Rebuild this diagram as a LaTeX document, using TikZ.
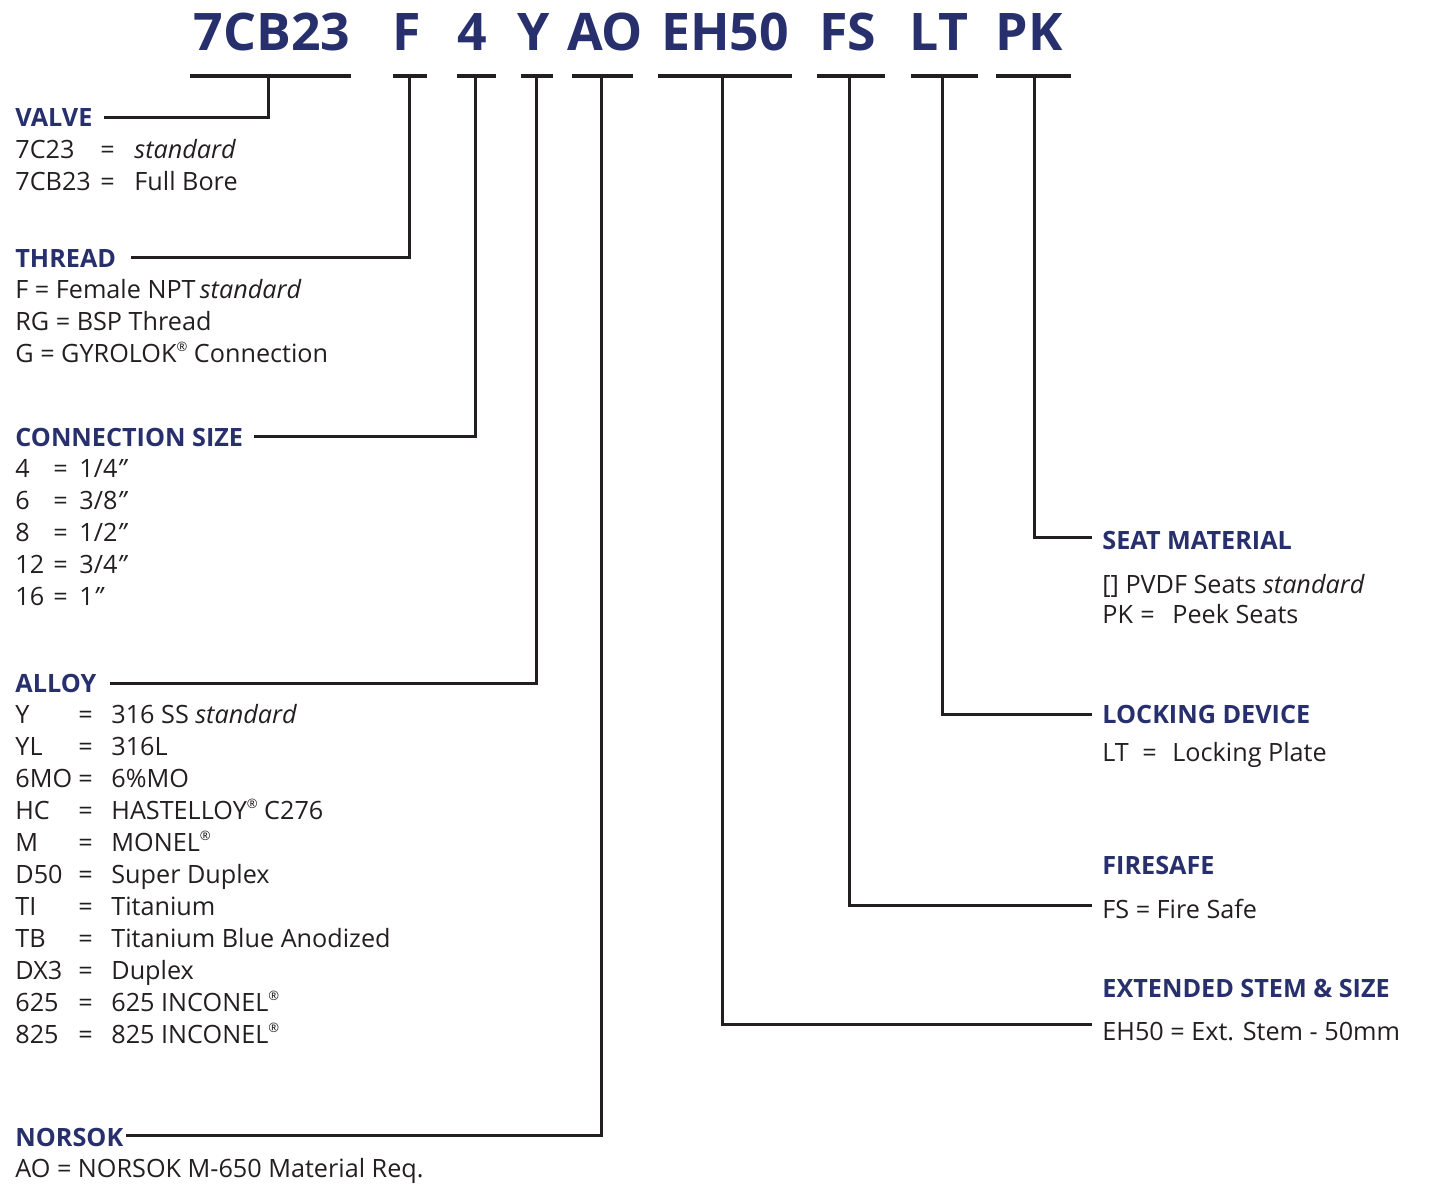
\documentclass[tikz,border=0pt]{standalone}
\usepackage{fontspec}
\setmainfont{Open Sans}
\usetikzlibrary{positioning}
\definecolor{codeblue}{HTML}{27306C}
\definecolor{leadgray}{HTML}{231F20}
\definecolor{textgray}{HTML}{231F20}
% key, = and value at fixed offsets
\newcommand{\kv}[4]{\makebox[#1][l]{#2}\makebox[#3][l]{=}#4}
\newcommand{\reg}{\raisebox{0.75ex}{\fontsize{6.5}{7}\selectfont ®}}

\begin{document}
\begin{tikzpicture}[x=0.5pt, y=-0.5pt, every node/.style={inner sep=0pt},
  code/.style={anchor=base, text=codeblue, font=\fontsize{25.9}{30}\selectfont\bfseries},
  head/.style={anchor=base west, text=codeblue, font=\fontsize{12.6}{16}\selectfont\bfseries},
  body/.style={anchor=base west, text=textgray, font=\fontsize{12.6}{16}\selectfont},
  uline/.style={draw=leadgray, line width=1.6pt},
  lead/.style={draw=leadgray, line width=1.5pt}]
  \useasboundingbox (0,0) rectangle (1436,1184);

  % ordering code
  \node[code] (cValve) at (272,50) {7CB23};
  \node[code] (cThread) at (407,50) {F};
  \node[code] (cSize) at (472,50) {4};
  \node[code] (cAlloy) at (534,50) {Y};
  \node[code] (cNorsok) at (605,50) {AO};
  \node[code] (cStem) at (725,50) {EH50};
  \node[code] (cFire) at (848,50) {FS};
  \node[code] (cLock) at (939,50) {LT};
  \node[code] (cSeat) at (1029,50) {PK};

  \draw[uline] (190,76) -- (351,76);
  \draw[uline] (393,76) -- (427,76);
  \draw[uline] (457,76) -- (496,76);
  \draw[uline] (521,76) -- (553,76);
  \draw[uline] (572,76) -- (633,76);
  \draw[uline] (658,76) -- (792,76);
  \draw[uline] (817,76) -- (885,76);
  \draw[uline] (911,76) -- (978,76);
  \draw[uline] (996,76) -- (1071,76);

  \coordinate (tValve) at (268,76);
  \coordinate (tThread) at (409,76);
  \coordinate (tSize) at (475,76);
  \coordinate (tAlloy) at (536,76);
  \coordinate (tNorsok) at (601,76);
  \coordinate (tStem) at (722,76);
  \coordinate (tFire) at (849,76);
  \coordinate (tLock) at (942,76);
  \coordinate (tSeat) at (1034,76);

  % left column
  \node[head] (hValve) at (15,126) {VALVE};
  \node[body] (bValve) at (15,158) {\begin{tabular}[t]{@{}l@{}}
    \kv{42.5pt}{7C23}{17pt}{\textit{standard}}\\
    \kv{42.5pt}{7CB23}{17pt}{Full Bore}\end{tabular}};
  \node[head] (hThread) at (15,267) {THREAD};
  \node[body] (bThread) at (15,298) {\begin{tabular}[t]{@{}l@{}}
    F = Female NPT\,\textit{standard}\\
    RG = BSP Thread\\
    G = GYROLOK\reg{} Connection\end{tabular}};
  \node[head] (hSize) at (15,446) {CONNECTION SIZE};
  \node[body] (bSize) at (15,477) {\begin{tabular}[t]{@{}l@{}}
    \kv{19pt}{4}{13pt}{1/4\textit{"}}\\
    \kv{19pt}{6}{13pt}{3/8\textit{"}}\\
    \kv{19pt}{8}{13pt}{1/2\textit{"}}\\
    \kv{19pt}{12}{13pt}{3/4\textit{"}}\\
    \kv{19pt}{16}{13pt}{1\textit{"}}\end{tabular}};
  \node[head] (hAlloy) at (15,692) {ALLOY};
  \node[body] (bAlloy) at (15,723) {\begin{tabular}[t]{@{}l@{}}
    \kv{31.5pt}{Y}{16.5pt}{316 SS \textit{standard}}\\
    \kv{31.5pt}{YL}{16.5pt}{316L}\\
    \kv{31.5pt}{6MO}{16.5pt}{6\%MO}\\
    \kv{31.5pt}{HC}{16.5pt}{HASTELLOY\reg{} C276}\\
    \kv{31.5pt}{M}{16.5pt}{MONEL\reg}\\
    \kv{31.5pt}{D50}{16.5pt}{Super Duplex}\\
    \kv{31.5pt}{TI}{16.5pt}{Titanium}\\
    \kv{31.5pt}{TB}{16.5pt}{Titanium Blue Anodized}\\
    \kv{31.5pt}{DX3}{16.5pt}{Duplex}\\
    \kv{31.5pt}{625}{16.5pt}{625 INCONEL\reg}\\
    \kv{31.5pt}{825}{16.5pt}{825 INCONEL\reg}\end{tabular}};
  \node[head] (hNorsok) at (15,1146) {NORSOK};
  \node[body] (bNorsok) at (15,1177) {AO = NORSOK M-650 Material Req.};

  % right column
  \node[head] (hSeat) at (1102,549) {SEAT MATERIAL};
  \node[body] (bSeat) at (1102,593) {\begin{tabular}[t]{@{}l@{}}
    [] PVDF Seats \textit{standard}\\[-1pt]
    \kv{19pt}{PK}{16pt}{Peek Seats}\end{tabular}};
  \node[head] (hLock) at (1102,723) {LOCKING DEVICE};
  \node[body] (bLock) at (1102,761) {\kv{20pt}{LT}{15pt}{Locking Plate}};
  \node[head] (hFire) at (1102,874) {FIRESAFE};
  \node[body] (bFire) at (1102,918) {FS = Fire Safe};
  \node[head] (hStem) at (1102,997) {EXTENDED STEM \& SIZE};
  \node[body] (bStem) at (1102,1040) {EH50 = Ext. Stem - 50mm};

  \coordinate (eValve) at (104,117);
  \coordinate (eThread) at (131,257);
  \coordinate (eSize) at (254,436);
  \coordinate (eAlloy) at (110,683);
  \coordinate (eNorsok) at (126,1135);
  \coordinate (eSeat) at (1092,537);
  \coordinate (eLock) at (1092,714);
  \coordinate (eFire) at (1092,905);
  \coordinate (eStem) at (1092,1024);

  \draw[lead] (tValve) |- (eValve);
  \draw[lead] (tThread) |- (eThread);
  \draw[lead] (tSize) |- (eSize);
  \draw[lead] (tAlloy) |- (eAlloy);
  \draw[lead] (tNorsok) |- (eNorsok);
  \draw[lead] (tSeat) |- (eSeat);
  \draw[lead] (tLock) |- (eLock);
  \draw[lead] (tFire) |- (eFire);
  \draw[lead] (tStem) |- (eStem);
\end{tikzpicture}
\end{document}
